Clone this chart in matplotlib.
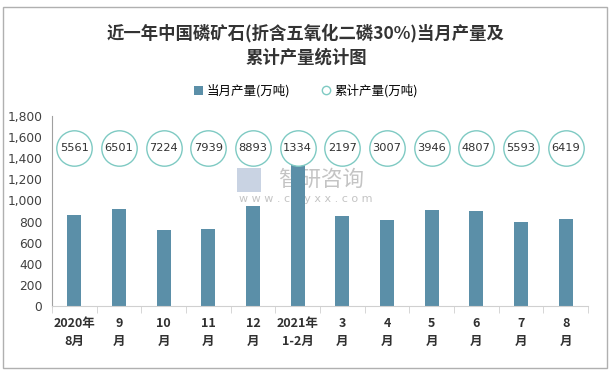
import matplotlib.pyplot as plt
from matplotlib.lines import Line2D
from matplotlib.patches import Patch, Rectangle

plt.rcParams['font.family'] = ['Noto Sans CJK SC', 'DejaVu Sans']

# data
months = ['2020年\n8月', '9\n月', '10\n月', '11\n月', '12\n月', '2021年\n1-2月',
          '3\n月', '4\n月', '5\n月', '6\n月', '7\n月', '8\n月']
monthly = [866, 920, 723, 730, 950, 1334, 848, 815, 912, 902, 795, 825]
cumulative = [5561, 6501, 7224, 7939, 8893, 1334, 2197, 3007, 3946, 4807, 5593, 6419]

bar_color = '#5b8fa8'
circle_color = '#7fcac3'

fig = plt.figure(figsize=(6.12, 3.73), dpi=100)
fig.patches.append(Rectangle((3 / 612, 1 - 368 / 373), 604 / 612, 361 / 373,
                             transform=fig.transFigure, fill=False,
                             edgecolor='#b0b0b0', linewidth=1))
ax = fig.add_axes([52 / 612, 1 - 306 / 373, 536 / 612, 190 / 373])

# watermark, behind the bars
ax.text(0.525, 0.517, '智研咨询', transform=fig.transFigure, ha='center',
        va='center', fontsize=15.5, color='#c4c4c4', zorder=1)
ax.text(0.50, 0.466, 'w w w . c h y x x . c o m', transform=fig.transFigure,
        ha='center', va='center', fontsize=8, color='#c4c4c4', zorder=1,
        family='DejaVu Sans')
ax.add_patch(Rectangle((237 / 612, 1 - 192 / 373), 24 / 612, 24 / 373,
                       transform=fig.transFigure, facecolor='#c9d3e3',
                       edgecolor='none', zorder=1))

x = list(range(len(months)))
ax.bar(x, monthly, width=0.31, color=bar_color, zorder=2)

# cumulative values shown as circles at a fixed level
ax.scatter(x, [1500] * len(x), s=650, facecolor='white', edgecolor=circle_color,
           linewidth=1, zorder=3)
for xi, v in zip(x, cumulative):
    ax.text(xi, 1500, str(v), ha='center', va='center', fontsize=8.2,
            color='#303030', family='DejaVu Sans', zorder=4)

ax.set_xlim(-0.5, len(x) - 0.5)
ax.set_ylim(0, 1800)
ax.set_yticks(range(0, 1801, 200))
ax.set_yticklabels([f'{v:,}' for v in range(0, 1801, 200)], fontsize=8.8,
                   color='#404040', family='DejaVu Sans')
ax.tick_params(axis='y', length=0, pad=7)

ax.set_xticks(x)
ax.set_xticklabels(months, fontsize=9, fontweight='bold', color='#303030',
                   linespacing=1.5)
ax.tick_params(axis='x', length=0, pad=8)
ax.set_xticks([i - 0.5 for i in range(len(x) + 1)], minor=True)
ax.tick_params(axis='x', which='minor', length=5, color='#d0d0d0')

for s in ['top', 'right']:
    ax.spines[s].set_visible(False)
ax.spines['left'].set_color('#a0a0a0')
ax.spines['bottom'].set_color('#d0d0d0')

fig.text(0.5, 0.878, '近一年中国磷矿石(折含五氧化二磷30%)当月产量及\n累计产量统计图',
         ha='center', va='center', fontsize=12.5, fontweight='bold',
         color='#333333', linespacing=1.45)

handles = [Patch(facecolor=bar_color, label='当月产量(万吨)'),
           Line2D([], [], marker='o', linestyle='none', markerfacecolor='white',
                  markeredgecolor=circle_color, markersize=6, label='累计产量(万吨)')]
fig.legend(handles=handles, loc='center', bbox_to_anchor=(0.5, 0.756), ncol=2,
           frameon=False, fontsize=9, handlelength=0.7, handletextpad=0.3,
           columnspacing=2.5)

fig.savefig('out.png', dpi=100)
